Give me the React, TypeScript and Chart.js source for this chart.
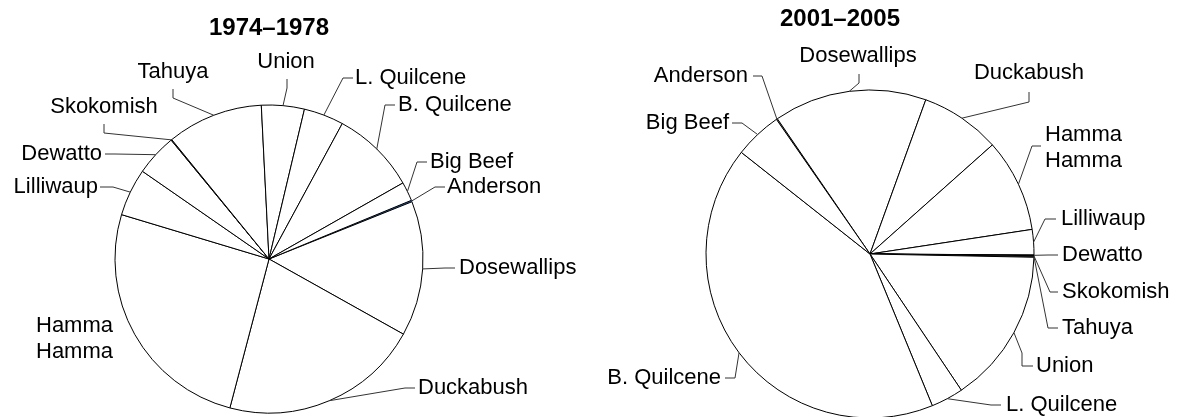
import React, { useEffect, useRef } from "react";
import { Chart, ArcElement, PieController } from "chart.js";

Chart.register(ArcElement, PieController);

// ---- data ----
const categories = [
  "Anderson",
  "Dosewallips",
  "Duckabush",
  "Hamma Hamma",
  "Lilliwaup",
  "Dewatto",
  "Skokomish",
  "Tahuya",
  "Union",
  "L. Quilcene",
  "B. Quilcene",
  "Big Beef",
];
const share1974 = [0.16, 14.2, 21.0, 25.6, 5.0, 4.4, 0.08, 10.1, 4.5, 4.2, 8.9, 2.0];
const share2001 = [0.11, 15.1, 7.9, 9.2, 2.5, 0.06, 0.07, 0.09, 15.3, 3.2, 41.9, 4.7];
const periodTitles = ["1974–1978", "2001–2005"];

// ---- layout / style (not data) ----
const W = 1177;
const H = 417;
const FONT = "'Liberation Sans', Arial, Helvetica, sans-serif";

type Lbl = { lines: string[]; x: number; y: number; align: CanvasTextAlign; path: number[][] };

// label positions relative to pie centre
function rel(cx: number, cy: number, l: Lbl): Lbl {
  return {
    ...l,
    x: l.x - cx,
    y: l.y - cy,
    path: l.path.map(([a, b]) => [a - cx, b - cy]),
  };
}

const leftCfg = {
  cx: 269,
  cy: 259,
  r: 154,
  rotation: 67.6,
  title: { x: 269, y: 28 },
  labels: ([
    { lines: ["Anderson"], x: 447, y: 187, align: "left", path: [[445, 187], [435, 187]] },
    { lines: ["Dosewallips"], x: 459, y: 268, align: "left", path: [[455, 268], [445, 268]] },
    { lines: ["Duckabush"], x: 418, y: 388, align: "left", path: [[415, 388], [405, 388]] },
    { lines: ["Hamma", "Hamma"], x: 113, y: 326, align: "right", path: [] },
    { lines: ["Lilliwaup"], x: 98, y: 187, align: "right", path: [[100, 187], [113, 187]] },
    { lines: ["Dewatto"], x: 102, y: 154, align: "right", path: [[105, 154], [115, 154]] },
    { lines: ["Skokomish"], x: 104, y: 107, align: "center", path: [[104, 124], [104, 133]] },
    { lines: ["Tahuya"], x: 173, y: 72, align: "center", path: [[173, 89], [173, 98]] },
    { lines: ["Union"], x: 286, y: 62, align: "center", path: [[287, 79], [287, 88]] },
    { lines: ["L. Quilcene"], x: 355, y: 78, align: "left", path: [[353, 78], [343, 78]] },
    { lines: ["B. Quilcene"], x: 398, y: 105, align: "left", path: [[395, 105], [385, 105]] },
    { lines: ["Big Beef"], x: 430, y: 162, align: "left", path: [[427, 162], [417, 162]] },
  ] as Lbl[]).map((l) => rel(269, 259, l)),
  bg: categories.map((c) => (c === "Anderson" ? "#1f5ba8" : "#ffffff")),
  border: categories.map((c) => (c === "Anderson" ? "#1f5ba8" : "#000000")),
};

const rightCfg = {
  cx: 870,
  cy: 254,
  r: 164,
  rotation: -34.8,
  title: { x: 840, y: 19 },
  labels: ([
    { lines: ["Anderson"], x: 748, y: 76, align: "right", path: [[753, 76], [762, 76]] },
    { lines: ["Dosewallips"], x: 858, y: 56, align: "center", path: [[859, 74], [859, 83]] },
    { lines: ["Duckabush"], x: 1029, y: 73, align: "center", path: [[1029, 92], [1029, 102]] },
    { lines: ["Hamma", "Hamma"], x: 1045, y: 135, align: "left", path: [[1041, 146], [1032, 146]] },
    { lines: ["Lilliwaup"], x: 1061, y: 219, align: "left", path: [[1056, 219], [1045, 219]] },
    { lines: ["Dewatto"], x: 1062, y: 255, align: "left", path: [[1058, 255], [1048, 255]] },
    { lines: ["Skokomish"], x: 1062, y: 292, align: "left", path: [[1058, 292], [1050, 292]] },
    { lines: ["Tahuya"], x: 1062, y: 328, align: "left", path: [[1058, 328], [1048, 328]] },
    { lines: ["Union"], x: 1036, y: 366, align: "left", path: [[1033, 366], [1022, 366], [1022, 353]] },
    { lines: ["L. Quilcene"], x: 1006, y: 405, align: "left", path: [[1001, 405], [991, 405]] },
    { lines: ["B. Quilcene"], x: 721, y: 378, align: "right", path: [[725, 378], [735, 378]] },
    { lines: ["Big Beef"], x: 729, y: 123, align: "right", path: [[732, 123], [742, 123]] },
  ] as Lbl[]).map((l) => rel(870, 254, l)),
  bg: categories.map(() => "#ffffff"),
  border: categories.map(() => "#000000"),
};

const labelPlugin = {
  id: "pieLabels",
  afterDraw(chart: any, _args: any, opts: any) {
    const ctx: CanvasRenderingContext2D = chart.ctx;
    const meta = chart.getDatasetMeta(0);
    const cfg = opts.cfg;
    ctx.save();
    // title
    ctx.fillStyle = "#000";
    ctx.font = `bold 24px ${FONT}`;
    ctx.textAlign = "center";
    ctx.textBaseline = "middle";
    ctx.fillText(opts.title, cfg.title.x, cfg.title.y);

    ctx.font = `22px ${FONT}`;
    meta.data.forEach((arc: any, i: number) => {
      const p = arc.getProps(["x", "y", "startAngle", "endAngle", "outerRadius"], true);
      const mid = (p.startAngle + p.endAngle) / 2;
      const ax = p.x + p.outerRadius * Math.cos(mid);
      const ay = p.y + p.outerRadius * Math.sin(mid);
      const l: Lbl = cfg.labels[i];
      const cx = p.x;
      const cy = p.y;
      if (l.path.length) {
        ctx.strokeStyle = "#333";
        ctx.lineWidth = 1;
        ctx.beginPath();
        ctx.moveTo(cx + l.path[0][0], cy + l.path[0][1]);
        for (let k = 1; k < l.path.length; k++) ctx.lineTo(cx + l.path[k][0], cy + l.path[k][1]);
        ctx.lineTo(ax, ay);
        ctx.stroke();
      }
      ctx.fillStyle = "#000";
      ctx.textAlign = l.align;
      ctx.textBaseline = "middle";
      l.lines.forEach((line, k) => {
        ctx.fillText(line, cx + l.x, cy + l.y + k * 26);
      });
    });
    ctx.restore();
  },
};

function PieCanvas({ cfg, values, title }: { cfg: any; values: number[]; title: string }) {
  const ref = useRef<HTMLCanvasElement | null>(null);
  useEffect(() => {
    if (!ref.current) return;
    const half = 150;
    const chart = new Chart(ref.current, {
      type: "pie",
      data: {
        labels: categories,
        datasets: [
          {
            data: values,
            backgroundColor: cfg.bg,
            borderColor: cfg.border,
            borderWidth: 1,
          },
        ],
      },
      options: {
        responsive: false,
        animation: false,
        devicePixelRatio: 1,
        rotation: cfg.rotation,
        radius: cfg.r,
        layout: {
          padding: {
            left: cfg.cx - half,
            right: W - cfg.cx - half,
            top: cfg.cy - half,
            bottom: H - cfg.cy - half,
          },
        },
        events: [],
        plugins: {
          pieLabels: { cfg, title },
        } as any,
      },
      plugins: [labelPlugin],
    });
    return () => chart.destroy();
  }, []);
  return (
    <canvas
      ref={ref}
      width={W}
      height={H}
      style={{ position: "absolute", left: 0, top: 0, width: W, height: H }}
    />
  );
}

export default function App() {
  return (
    <div style={{ position: "absolute", left: 0, top: 0, width: W, height: H, background: "#fff" }}>
      <PieCanvas cfg={leftCfg} values={share1974} title={periodTitles[0]} />
      <PieCanvas cfg={rightCfg} values={share2001} title={periodTitles[1]} />
    </div>
  );
}
